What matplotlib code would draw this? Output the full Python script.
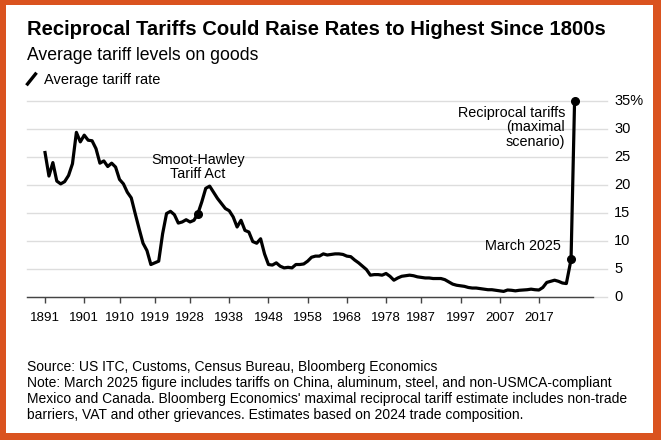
import matplotlib
matplotlib.use("Agg")
import matplotlib.pyplot as plt
from matplotlib import font_manager
from matplotlib.lines import Line2D
from matplotlib.patches import Rectangle

# average tariff rate on goods, %
years = list(range(1891, 2025))
rates = [
    25.8, 21.6, 24.0, 20.7, 20.2, 20.6, 21.7, 23.8, 29.4, 27.7,   # 1891-1900
    28.9, 28.0, 27.9, 26.5, 23.9, 24.3, 23.3, 23.9, 23.2, 21.0,   # 1901-1910
    20.2, 18.7, 17.7, 14.9, 12.2, 9.6, 8.3, 5.8, 6.1, 6.4,        # 1911-1920
    11.3, 14.9, 15.3, 14.7, 13.2, 13.4, 13.8, 13.4, 13.7, 14.9,   # 1921-1930
    17.0, 19.4, 19.8, 18.7, 17.6, 16.7, 15.8, 15.4, 14.3, 12.5,   # 1931-1940
    13.7, 11.9, 11.6, 9.9, 9.6, 10.4, 7.7, 5.8, 5.7, 6.1,         # 1941-1950
    5.5, 5.2, 5.3, 5.2, 5.8, 5.8, 5.9, 6.4, 7.1, 7.3,             # 1951-1960
    7.3, 7.7, 7.5, 7.6, 7.7, 7.7, 7.6, 7.3, 7.2, 6.6,             # 1961-1970
    6.1, 5.5, 4.9, 3.9, 4.0, 4.0, 3.9, 4.2, 3.7, 3.0,             # 1971-1980
    3.4, 3.7, 3.8, 3.9, 3.8, 3.6, 3.5, 3.4, 3.4, 3.3,             # 1981-1990
    3.3, 3.3, 3.1, 2.7, 2.3, 2.1, 2.0, 1.9, 1.7, 1.6,             # 1991-2000
    1.6, 1.5, 1.4, 1.3, 1.3, 1.2, 1.1, 1.0, 1.25, 1.2,            # 2001-2010
    1.1, 1.2, 1.25, 1.3, 1.4, 1.3, 1.25, 1.7, 2.6, 2.8,           # 2011-2020
    3.0, 2.8, 2.5, 2.4,                                           # 2021-2024
]
march_2025 = (2025.2, 6.7)
reciprocal_max = (2026.1, 35.0)
smoot_hawley = (1930, 14.9)

x_ticks = [1891, 1901, 1910, 1919, 1928, 1938, 1948, 1958, 1968, 1978, 1987, 1997, 2007, 2017]
y_ticks = [0, 5, 10, 15, 20, 25, 30, 35]
y_labels = ["0", "5", "10", "15", "20", "25", "30", "35%"]

title = "Reciprocal Tariffs Could Raise Rates to Highest Since 1800s"
subtitle = "Average tariff levels on goods"
legend_label = "Average tariff rate"
notes = [
    "Source: US ITC, Customs, Census Bureau, Bloomberg Economics",
    "Note: March 2025 figure includes tariffs on China, aluminum, steel, and non-USMCA-compliant",
    "Mexico and Canada. Bloomberg Economics' maximal reciprocal tariff estimate includes non-trade",
    "barriers, VAT and other grievances. Estimates based on 2024 trade composition.",
]

W, H = 661, 440
ORANGE = "#DA531F"
GRID = "#DDDDDD"

names = {f.name for f in font_manager.fontManager.ttflist}
FONT = "Liberation Sans" if "Liberation Sans" in names else "DejaVu Sans"
plt.rcParams["font.family"] = FONT


def fx(x):
    return x / W


def fy(y):
    return 1 - y / H


fig = plt.figure(figsize=(W / 100, H / 100), dpi=100, facecolor=ORANGE)
fig.patches.append(Rectangle((fx(6), fy(433)), fx(653 - 6), (433 - 5) / H,
                             transform=fig.transFigure, facecolor="white",
                             edgecolor="none", zorder=-10))

ax_l, ax_r, ax_b = 27, 593, 297
x0, x1 = 1886.4, 2030.8
y_top = 35.6
px_per_unit = 5.6
ax_t = ax_b - y_top * px_per_unit
ax = fig.add_axes([fx(ax_l), fy(ax_b), fx(ax_r - ax_l), (ax_b - ax_t) / H])
ax.set_zorder(5)
ax.set_facecolor("none")
ax.set_xlim(x0, x1)
ax.set_ylim(0, y_top)

for s in ("top", "right", "left"):
    ax.spines[s].set_visible(False)
ax.spines["bottom"].set_color("#444444")
ax.spines["bottom"].set_linewidth(1.0)

# gridlines run a bit past the axis end
grid_end = (607 - ax_l) / (ax_r - ax_l)
for v, lab in zip(y_ticks, y_labels):
    ax.plot([0, grid_end], [v, v], transform=ax.get_yaxis_transform(),
            color=GRID, lw=1.0, clip_on=False, zorder=1)
    ax.text((614 - ax_l) / (ax_r - ax_l), v, lab,
            transform=ax.get_yaxis_transform(), ha="left", va="center",
            fontsize=10.5, color="black", clip_on=False)

ax.set_yticks([])
ax.set_xticks(x_ticks)
ax.set_xticklabels([str(t) for t in x_ticks], fontsize=9.6)
ax.tick_params(axis="x", length=4.5, width=1.0, color="#444444", pad=6)

ax.plot(years + [march_2025[0], reciprocal_max[0]],
        rates + [march_2025[1], reciprocal_max[1]],
        color="black", lw=2.3, solid_joinstyle="round", zorder=3, clip_on=False)
for px, py in (smoot_hawley, march_2025, reciprocal_max):
    ax.plot(px, py, "o", color="black", ms=5.5, zorder=4, clip_on=False)

ax.text(1930.0, 23.2, "Smoot-Hawley\nTariff Act", ha="center", va="center",
        fontsize=10.4, linespacing=1.05)
ax.text(2023.7, 30.3, "Reciprocal tariffs\n(maximal\nscenario)", ha="right",
        ma="right", va="center", fontsize=10.4, linespacing=1.05)
ax.text(2022.6, 9.1, "March 2025", ha="right", va="center", fontsize=10.4)

# header
t = fig.text(fx(27), fy(35), title, fontsize=14, fontweight="bold", va="baseline")
st = fig.text(fx(27), fy(60), subtitle, fontsize=12.5, va="baseline")
lt = fig.text(fx(44), fy(84), legend_label, fontsize=10.3, va="baseline")
fig.lines.append(Line2D([fx(27.5), fx(35.5)], [fy(84), fy(74)],
                        transform=fig.transFigure, color="black", lw=2.4))

note_objs = []
for i, line in enumerate(notes):
    note_objs.append(fig.text(fx(27), fy(371 + 16 * i), line, fontsize=9.5,
                              va="baseline"))

# scale header/footer text so widths match the original layout
renderer = fig.canvas.get_renderer()


def fit(txt, target):
    w = txt.get_window_extent(renderer).width
    txt.set_fontsize(txt.get_fontsize() * target / w)


fit(t, 581)
fit(st, 233)
fit(lt, 117)
fit(note_objs[1], 585)
for n in note_objs:
    n.set_fontsize(note_objs[1].get_fontsize())

fig.savefig("out.png", dpi=100, facecolor=ORANGE)
